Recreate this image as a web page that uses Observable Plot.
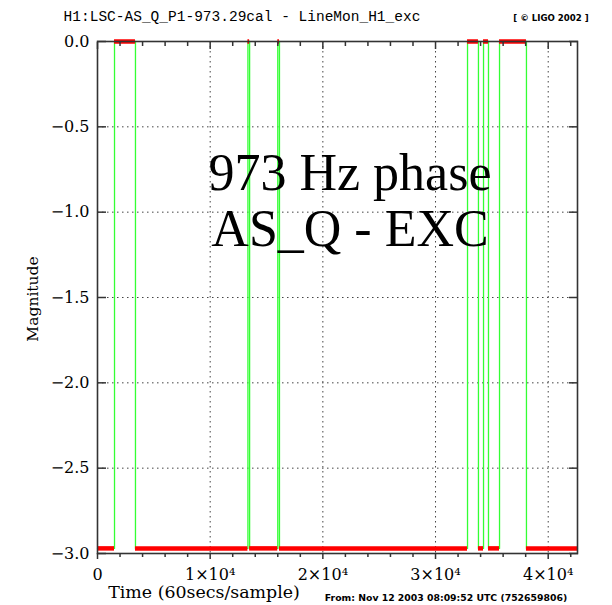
<!DOCTYPE html>
<html><head><meta charset="utf-8">
<script src="https://cdn.jsdelivr.net/npm/d3@7"></script>
<script src="https://cdn.jsdelivr.net/npm/@observablehq/plot@0.6"></script>
<style>body{margin:0;background:#fff}</style>
</head><body><div id="chart"></div>
<script>
// Piecewise data (time in samples, magnitude)
const segStart = [0, 1510, 3370, 13350, 13500, 16000, 16150, 32840, 33810, 34260, 34700, 35680, 38070];
const segEnd   = [1510, 3370, 13350, 13500, 16000, 16150, 32840, 33810, 34260, 34700, 35680, 38070, 42600];
const segLevel = [-2.97, 0, -2.97, 0, -2.97, 0, -2.97, 0, -2.97, 0, -2.97, 0, -2.97];

const xMajorTicks = [0, 10000, 20000, 30000, 40000];
const xTickLabels = ["0", "1×10⁴", "2×10⁴", "3×10⁴", "4×10⁴"];
const xMinorTicks = [2000, 4000, 6000, 8000, 12000, 14000, 16000, 18000, 22000, 24000, 26000, 28000, 32000, 34000, 36000, 38000, 42000];
const yTicks = [0, -0.5, -1, -1.5, -2, -2.5, -3];
const yTickLabels = ["0.0", "−0.5", "−1.0", "−1.5", "−2.0", "−2.5", "−3.0"];

const titleText = "H1:LSC-AS_Q_P1-973.29cal - LineMon_H1_exc";
const copyrightText = "[ © LIGO 2002 ]";
const fromText = "From: Nov 12 2003 08:09:52 UTC (752659806)";
const xLabel = "Time (60secs/sample)";
const yLabel = "Magnitude";
const noteLines = ["973 Hz phase", "AS_Q - EXC"];

const segments = segStart.map((s, i) => ({x1: s, x2: segEnd[i], y: segLevel[i]}));
const linePts = segments.flatMap(d => [{x: d.x1, y: d.y}, {x: d.x2, y: d.y}]);

const dotted = {stroke: "#444", strokeOpacity: 1, strokeWidth: 1, strokeDasharray: "1.5,3.5"};

const svg = Plot.plot({
  width: 612, height: 605,
  marginLeft: 97, marginRight: 35, marginTop: 41, marginBottom: 52,
  style: {fontFamily: "DejaVu Serif", fontSize: "16px", color: "#000", background: "#fff"},
  x: {domain: [0, 42600], axis: null},
  y: {domain: [-3, 0], axis: null},
  marks: [
    Plot.gridX(xMajorTicks.slice(1), dotted),
    Plot.gridY(yTicks.slice(1, -1), dotted),
    Plot.line(linePts, {x: "x", y: "y", stroke: "#33ff33", strokeWidth: 1.3}),
    Plot.ruleY(segments, {y: "y", x1: "x1", x2: "x2", stroke: "#ff0000", strokeWidth: 4.5}),
    Plot.frame({stroke: "#333", strokeWidth: 1.6}),
    // top ticks (inward)
    Plot.axisX(xMajorTicks, {anchor: "top", tickSize: -7, tickFormat: () => "", label: null, stroke: "#333", strokeWidth: 1.5}),
    Plot.axisX(xMinorTicks, {anchor: "top", tickSize: -4, tickFormat: () => "", label: null, stroke: "#333", strokeWidth: 1.5}),
    // bottom ticks
    Plot.axisX(xMajorTicks, {anchor: "bottom", tickSize: 6, tickFormat: () => "", label: null, stroke: "#333", strokeWidth: 1.5}),
    Plot.axisX(xMinorTicks, {anchor: "bottom", tickSize: 4, tickFormat: () => "", label: null, stroke: "#333", strokeWidth: 1.5}),
    Plot.axisX(xMajorTicks, {anchor: "bottom", tickSize: 0, tickPadding: 15, fontSize: 16,
      tickFormat: d => xTickLabels[xMajorTicks.indexOf(d)], label: null}),
    // y ticks inward on both sides
    Plot.axisY(yTicks, {anchor: "left", tickSize: -9, tickFormat: () => "", label: null, stroke: "#333", strokeWidth: 1.5}),
    Plot.axisY(yTicks, {anchor: "right", tickSize: -9, tickFormat: () => "", label: null, stroke: "#333", strokeWidth: 1.5}),
    Plot.axisY(yTicks, {anchor: "left", tickSize: 0, tickPadding: 8, fontSize: 16,
      tickFormat: d => yTickLabels[yTicks.indexOf(d)], label: null})
  ]
});

const s = d3.select(svg);
s.append("text").attr("x", 242).attr("y", 21).attr("text-anchor", "middle")
  .attr("font-family", "Liberation Mono").attr("font-size", 14.5).attr("fill", "#000").text(titleText);
s.append("text").attr("x", 551).attr("y", 21).attr("text-anchor", "middle")
  .attr("font-family", "DejaVu Sans").attr("font-weight", "bold").attr("font-size", 8.6).attr("fill", "#000").text(copyrightText);
s.append("text").attr("x", 446).attr("y", 601).attr("text-anchor", "middle")
  .attr("font-family", "DejaVu Sans").attr("font-weight", "bold").attr("font-size", 9.3).attr("fill", "#000").text(fromText);
s.append("text").attr("x", 204).attr("y", 598).attr("text-anchor", "middle")
  .attr("font-family", "DejaVu Serif").attr("font-size", 17.4).attr("fill", "#000").text(xLabel);
s.append("text").attr("transform", "translate(38,299) rotate(-90)").attr("text-anchor", "middle")
  .attr("font-family", "DejaVu Serif").attr("font-size", 15.5).attr("fill", "#000").text(yLabel);
noteLines.forEach((t, i) => {
  s.append("text").attr("x", 350).attr("y", 190 + i * 56).attr("text-anchor", "middle")
    .attr("font-family", "Liberation Serif").attr("font-size", 52).attr("fill", "#000").text(t);
});

document.getElementById("chart").appendChild(svg);
</script>
</body></html>
